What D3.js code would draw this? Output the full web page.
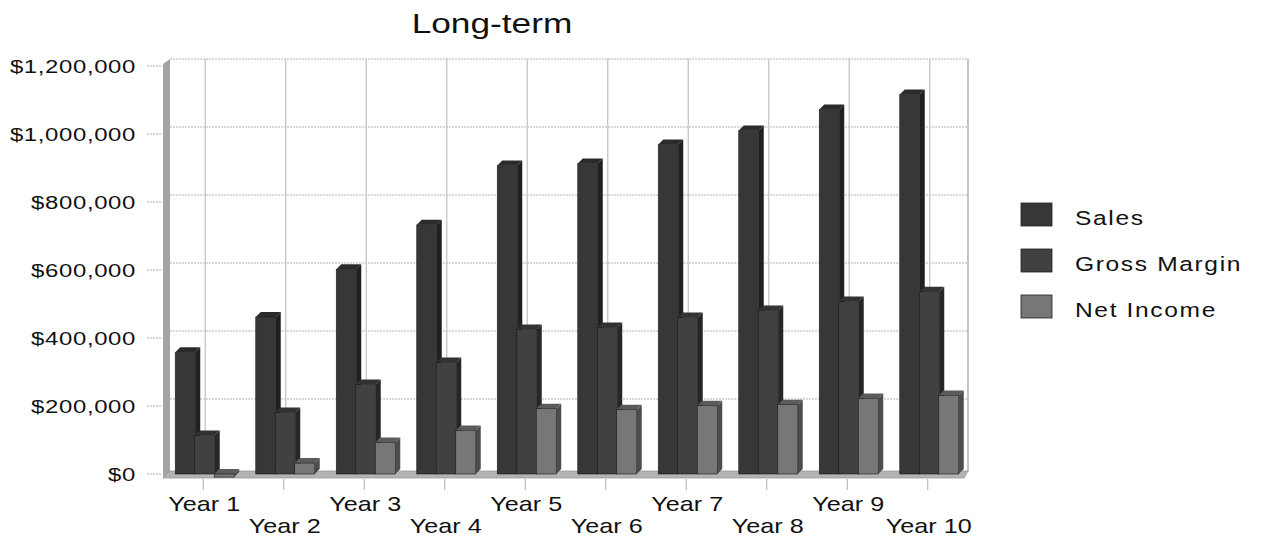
<!DOCTYPE html>
<html>
<head>
<meta charset="utf-8">
<script src="https://cdn.jsdelivr.net/npm/d3@7"></script>
<style>
  html, body { margin: 0; padding: 0; background: #fff; }
  svg { display: block; }
  text { font-family: "Liberation Sans", Arial, sans-serif; fill: #111; }
</style>
</head>
<body>
<svg id="chart" width="1262" height="538"></svg>
<script>
// Long-term projection, dollars per year
const years = ["Year 1","Year 2","Year 3","Year 4","Year 5","Year 6","Year 7","Year 8","Year 9","Year 10"];
const seriesNames = ["Sales","Gross Margin","Net Income"];
const sales       = [358000, 462000, 602000, 733000, 907000, 913000, 969000, 1010000, 1072000, 1116000];
const grossMargin = [113000, 181000, 263000, 328000, 425000, 431000, 460000, 481000, 507000, 536000];
const netIncome   = [-9000, 32000, 93000, 128000, 192000, 189000, 201000, 204000, 222000, 231000];
const yTicks = [0, 200000, 400000, 600000, 800000, 1000000, 1200000];
const chartTitle = "Long-term";

const seriesValues = [sales, grossMargin, netIncome];
const faceColors = ["#363837", "#3f4241", "#767877"];
const sideColors = ["#1f2120", "#262827", "#4c4e4d"];
const topColors  = ["#2a2c2b", "#303332", "#5a5c5b"];

const svg = d3.select("#chart");
const sx = 1.26;                 // horizontal stretch of the lettering
const depth = 5;                 // 3-D depth offset (px)
const left = 163, right = 968, bottomY = 474;

const x = d3.scaleBand().domain(years).range([left, right]).padding(0);
const y = d3.scaleLinear().domain([0, 1200000]).range([bottomY, 66]);
const xs = d3.scaleBand().domain(seriesNames).range([-28, 30.5]).padding(0);
const barW = 20;

const fmt = v => "$" + d3.format(",")(v);

// back wall gridlines
const grid = svg.append("g");
grid.selectAll("line.h").data(yTicks.slice(1)).join("line")
  .attr("x1", left + 7).attr("x2", right)
  .attr("y1", d => y(d) - depth - 2).attr("y2", d => y(d) - depth - 2)
  .attr("stroke", "#b3b3b3").attr("stroke-width", 1.2).attr("stroke-dasharray", "2,1");
grid.selectAll("line.v").data(years).join("line")
  .attr("x1", d => x(d) + x.bandwidth() / 2 + 2).attr("x2", d => x(d) + x.bandwidth() / 2 + 2)
  .attr("y1", y(1200000) - depth - 2).attr("y2", bottomY - 3)
  .attr("stroke", "#c0c0c0").attr("stroke-width", 1.2);
// right border
svg.append("line").attr("x1", right).attr("x2", right)
  .attr("y1", y(1200000) - depth - 2).attr("y2", bottomY - 2)
  .attr("stroke", "#b0b0b0").attr("stroke-width", 1.5);

// left wall and floor
svg.append("path")
  .attr("d", `M${left},${bottomY + 4} L${left},${y(1200000) - 2} L${left + 7},${y(1200000) - depth - 2} L${left + 7},${bottomY - 3} Z`)
  .attr("fill", "#a3a3a3");
svg.append("path")
  .attr("d", `M${left},${bottomY + 4} L${right - 4},${bottomY + 4} L${right},${bottomY - 3} L${left + 7},${bottomY - 3} Z`)
  .attr("fill", "#b3b3b3").attr("stroke", "#9a9a9a").attr("stroke-width", 0.8);

// bars with front, side and top faces
const bars = svg.append("g");
seriesNames.forEach((name, si) => {
  const g = bars.append("g");
  years.forEach((yr, i) => {
    const v = seriesValues[si][i];
    const x0 = x(yr) + x.bandwidth() / 2 + xs(name);
    const yTop = y(Math.max(v, 0));
    const yBot = y(Math.min(v, 0));
    const h = Math.max(yBot - yTop, 1.5);
    g.append("path")
      .attr("d", `M${x0 + barW},${yTop + h} L${x0 + barW + depth},${yTop + h - depth} L${x0 + barW + depth},${yTop - depth} L${x0 + barW},${yTop} Z`)
      .attr("fill", sideColors[si]);
    g.append("path")
      .attr("d", `M${x0},${yTop} L${x0 + depth},${yTop - depth} L${x0 + barW + depth},${yTop - depth} L${x0 + barW},${yTop} Z`)
      .attr("fill", topColors[si]);
    g.append("rect")
      .attr("x", x0).attr("y", yTop).attr("width", barW).attr("height", h)
      .attr("fill", faceColors[si]).attr("stroke", "#1a1a1a").attr("stroke-width", 0.6);
  });
});

// y axis labels and ticks
const yAxis = svg.append("g");
yAxis.selectAll("line").data(yTicks).join("line")
  .attr("x1", 147).attr("x2", 161).attr("y1", d => y(d)).attr("y2", d => y(d))
  .attr("stroke", "#aaa").attr("stroke-dasharray", "2,1");
yAxis.selectAll("g.lbl").data(yTicks).join("g")
  .attr("transform", d => `translate(136,${y(d) + 7}) scale(${sx},1)`)
  .append("text").attr("text-anchor", "end").attr("font-size", 19)
  .attr("letter-spacing", 0.5).text(fmt);

// x axis ticks and staggered labels
const xAxis = svg.append("g");
xAxis.selectAll("line").data(years).join("line")
  .attr("x1", d => x(d) + x.bandwidth() / 2).attr("x2", d => x(d) + x.bandwidth() / 2)
  .attr("y1", bottomY + 5).attr("y2", bottomY + 16).attr("stroke", "#aaa");
xAxis.selectAll("g.lbl").data(years).join("g")
  .attr("transform", (d, i) => `translate(${x(d) + x.bandwidth() / 2 + 1},${i % 2 === 0 ? 511 : 533}) scale(${sx},1)`)
  .append("text").attr("text-anchor", "middle").attr("font-size", 20).text(d => d);

// title
svg.append("g").attr("transform", `translate(492,33) scale(${sx},1)`)
  .append("text").attr("text-anchor", "middle").attr("font-size", 28).text(chartTitle);

// legend
const legend = svg.append("g");
seriesNames.forEach((name, i) => {
  const ly = 203 + i * 46;
  legend.append("rect").attr("x", 1021).attr("y", ly).attr("width", 31).attr("height", 23)
    .attr("fill", faceColors[i]).attr("stroke", "#222").attr("stroke-width", 0.8);
  legend.append("g").attr("transform", `translate(1075,${ly + 22}) scale(${sx},1)`)
    .append("text").attr("font-size", 19.5).attr("letter-spacing", 1.3).text(name);
});
</script>
</body>
</html>
